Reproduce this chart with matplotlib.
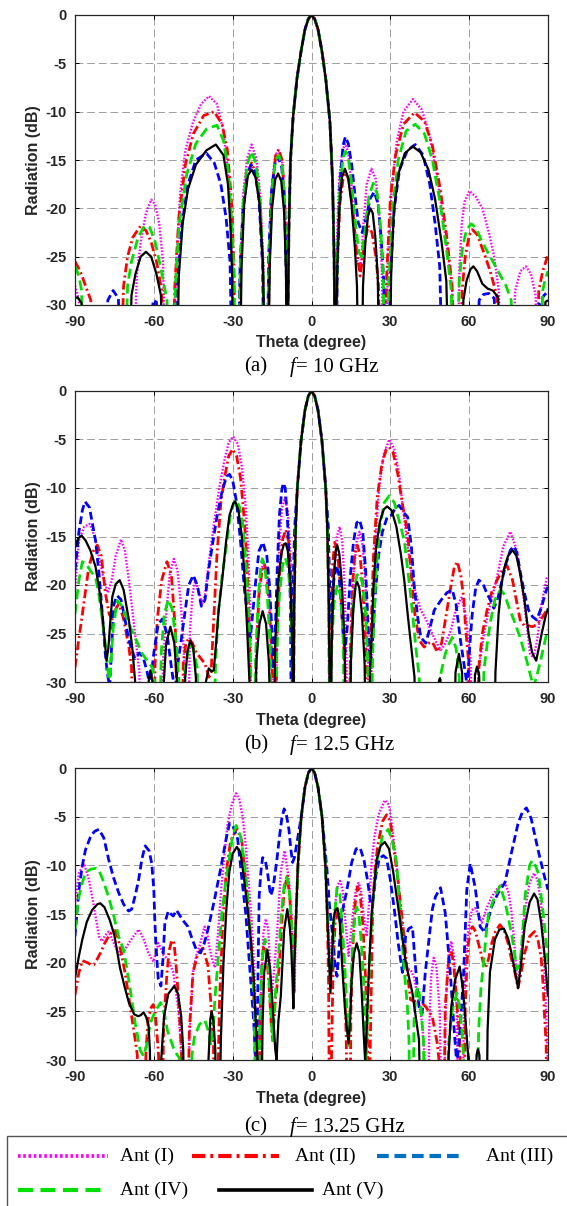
import numpy as np
import matplotlib.pyplot as plt
from matplotlib.lines import Line2D
from matplotlib.patches import Rectangle

plt.rcParams['axes.unicode_minus'] = False

# ============================================================
# --- Data: (Theta in degree, Radiation in dB) ---
# --- values below -30 dB are nulls (clipped by the axis) ---
# ============================================================

# ---------------- (a) f = 10 GHz ----------------
a_core = [(-8.6, -22), (-8, -15), (-7, -10.5), (-5.5, -6.5), (-4, -3.8), (-2.5, -1.5), (-1.2, -0.4), (0, 0),
          (1.2, -0.4), (2.5, -1.5), (4, -3.8), (5.5, -6.8), (7, -11), (8, -17), (8.6, -25)]

a_ant1 = [(-90, -28), (-88.5, -29.5), (-87, -40), (-68, -40), (-66.5, -27), (-65, -23.5), (-63, -20.5), (-61, -19.1),
          (-59.5, -19.6), (-58, -21.5), (-56.5, -25.5), (-55.3, -40), (-53, -40), (-51.5, -26), (-50, -18.5),
          (-48, -14), (-45, -11), (-42, -9.2), (-39, -8.4), (-36, -9.2), (-33.5, -12), (-31.5, -17), (-30.2, -25),
          (-29.5, -40), (-27.8, -40), (-27, -25), (-26, -18.5), (-24.5, -14.8), (-22.8, -13.4), (-21, -14.8),
          (-19.5, -18.5), (-18.3, -26), (-17.6, -40), (-16.8, -40), (-16, -24), (-15, -17.5), (-13.8, -14.5),
          (-12.5, -14), (-11.2, -15), (-10.2, -19), (-9.6, -26), (-9.3, -40)] + a_core + \
         [(9.1, -40), (9.6, -24), (10.5, -17), (11.8, -14), (12.8, -13.3), (14, -14.2), (15.2, -17.5), (16.3, -22),
          (17.5, -25.5), (18.8, -26), (19.8, -21.5), (21, -17.5), (22.8, -15.9), (24.5, -17), (25.8, -21),
          (26.8, -26.5), (27.5, -40), (28.3, -40), (29, -26), (30.5, -18), (32.5, -13), (35, -10), (38.6, -8.7),
          (42, -9.8), (45, -12.5), (48, -17), (50.5, -22), (53.5, -28), (54.5, -40), (55.5, -40), (56.3, -26),
          (57.2, -21.5), (58.3, -19.3), (60.1, -18.2), (62.5, -18.8), (65, -20), (67.5, -22.5), (69.5, -25),
          (71.3, -28.5), (72.3, -40), (76, -40), (77.5, -28.5), (79.5, -26.5), (81.6, -26), (83.5, -26.8),
          (85.3, -29), (86.3, -40), (90, -40)]

a_ant2 = [(-90, -25.5), (-88, -26.5), (-86, -28), (-84, -29.5), (-82.3, -40), (-73, -40), (-71.5, -28), (-70, -25),
          (-68, -23), (-65, -21.8), (-63, -22.3), (-61, -23.5), (-59, -25.5), (-57, -28.5), (-56.2, -40),
          (-53.2, -40), (-52, -28), (-50.5, -21), (-48, -15.5), (-45, -12.3), (-41, -10.4), (-37, -10),
          (-34, -11.3), (-32, -14), (-30.5, -19), (-29.5, -26), (-29, -40), (-27.8, -40), (-27, -26), (-26, -20),
          (-24.5, -16.5), (-22.8, -15.3), (-21, -16.5), (-19.5, -20), (-18.4, -27), (-17.8, -40), (-16.8, -40),
          (-16, -25), (-15, -18), (-13.6, -14.5), (-12.5, -13.9), (-11.2, -15), (-10.2, -19), (-9.6, -26),
          (-9.3, -40)] + a_core + \
         [(9.1, -40), (9.8, -26), (10.8, -19.5), (12, -17), (13, -16.4), (14.2, -17), (15.5, -19.5), (17, -24),
          (18.5, -27), (20, -24), (21.5, -21.8), (23, -22.5), (24.5, -25), (25.5, -28), (26.3, -40), (27.7, -40),
          (28.6, -27), (30, -19), (32, -14.5), (35, -11.3), (39.2, -10.1), (43, -11), (46, -13.5), (49, -18),
          (51.5, -23), (53.5, -28), (54.5, -40), (56.5, -40), (57.3, -28.5), (58.5, -25), (60, -22.8),
          (61.2, -22.2), (63, -22.7), (65.5, -24.5), (68, -26.5), (70.5, -29), (72, -40), (85.2, -40),
          (86.5, -28.5), (88, -26.5), (90, -24.8)]

a_ant3 = [(-90, -40), (-79, -40), (-77.5, -29.5), (-75.5, -28.5), (-73.5, -29.3), (-72, -40), (-61.5, -40),
          (-60.3, -29.5), (-59, -29.7), (-57.8, -40), (-52, -40), (-51, -28), (-49.5, -22), (-47, -17.5),
          (-44, -15), (-40, -14.3), (-37, -15.3), (-34.5, -17.5), (-32.5, -21), (-31, -25.5), (-30, -40),
          (-28, -40), (-27.2, -26), (-26, -20), (-24.5, -16.5), (-23, -15.5), (-21.5, -16.2), (-20, -19),
          (-18.6, -26), (-18, -40), (-17, -40), (-16.3, -25), (-15.3, -18.5), (-14, -15.5), (-12.7, -14.7),
          (-11.3, -15.8), (-10.2, -20), (-9.6, -27), (-9.4, -40)] + a_core + \
         [(9.2, -40), (9.9, -25), (10.8, -17.5), (12, -13.5), (12.9, -12.6), (14, -13.3), (15.3, -15.5),
          (16.5, -18.5), (17.8, -21.5), (19.3, -22.5), (20.8, -21), (22.3, -19), (23.9, -18.3), (25.3, -19.5),
          (26.5, -23), (27.5, -27.5), (28.3, -40), (29.3, -40), (30, -27), (31.5, -20), (33.5, -16), (36.5, -14),
          (39.5, -13.4), (42.5, -14.5), (45, -17.5), (47, -21.5), (48.8, -26), (50, -40), (62.5, -40),
          (63.8, -29.5), (65.5, -28.9), (67.5, -28.8), (69.5, -29.3), (71.5, -40), (85.4, -40), (86.8, -29.8),
          (88.5, -29), (90, -28.6)]

a_ant4 = [(-90, -26), (-88.5, -27), (-87.5, -28.5), (-86.7, -40), (-71.3, -40), (-70, -28), (-68.5, -25.5),
          (-66, -23), (-63.5, -21.8), (-61.5, -22), (-59.5, -23.5), (-57.5, -26), (-55, -29.5), (-54.2, -40),
          (-52.8, -40), (-51.8, -28), (-50.3, -21.5), (-47.5, -16.5), (-44, -13.3), (-40, -11.8), (-36, -11.4),
          (-33.5, -13), (-31.5, -16.5), (-30.2, -22), (-29.4, -28), (-29, -40), (-27.9, -40), (-27.1, -26),
          (-26, -19.5), (-24.5, -15.5), (-22.8, -14.1), (-21, -15.5), (-19.5, -19.5), (-18.4, -26.5),
          (-17.8, -40), (-16.9, -40), (-16.1, -25), (-15, -18), (-13.7, -15), (-12.5, -14.5), (-11.2, -15.5),
          (-10.2, -19.5), (-9.6, -26), (-9.3, -40)] + a_core + \
         [(9.1, -40), (9.8, -25), (10.8, -18), (12, -14.8), (12.9, -14.1), (14, -14.8), (15.3, -17.5),
          (16.7, -21.5), (18, -24.5), (19, -25), (20.3, -22.5), (21.8, -18.8), (23.5, -17.4), (25, -18.5),
          (26.3, -22), (27.3, -27), (28, -40), (28.8, -40), (29.5, -27), (31, -19.5), (33, -15), (36, -12),
          (39.5, -11.3), (43, -12.3), (46, -15), (49, -19.5), (51.5, -24.5), (53.2, -28.5), (53.8, -40),
          (55, -40), (56.2, -27.5), (57.5, -24), (59, -22.2), (60.8, -21.6), (62.5, -22), (65, -23.5), (68, -25),
          (71, -26.5), (74, -28), (76, -29.5), (77, -40), (86.8, -40), (88, -28.5), (89, -27.3), (90, -26.5)]

a_ant5 = [(-90, -29.3), (-89, -29.2), (-87.5, -29.8), (-86.5, -40), (-69.5, -40), (-68.5, -29), (-67, -26.8),
          (-65, -25), (-63, -24.5), (-61, -25), (-59, -26.8), (-57.3, -29), (-56.4, -40), (-51.3, -40),
          (-50.5, -27), (-49, -21.5), (-47, -18), (-44, -15.5), (-40, -14), (-36.4, -13.4), (-33.5, -14.5),
          (-31.8, -17.5), (-30.8, -22), (-30.2, -27), (-29.7, -40), (-27.4, -40), (-26.6, -26), (-25.6, -19.5),
          (-24.2, -16.6), (-22.8, -16), (-21.3, -16.8), (-19.8, -19.5), (-18.5, -25.5), (-17.6, -40),
          (-16.6, -40), (-15.9, -26), (-15, -20), (-13.8, -17), (-12.7, -16.4), (-11.5, -17.2), (-10.4, -20.5),
          (-9.7, -26.5), (-9.3, -40)] + a_core + \
         [(9, -40), (9.7, -27), (10.6, -20), (11.6, -16.8), (12.7, -15.9), (13.9, -16.8), (15.2, -19.5),
          (16.5, -24), (17.3, -28), (18, -40), (19, -40), (19.6, -28), (20.5, -23.5), (21.5, -20.8), (22.4, -20),
          (23.3, -20.5), (24.3, -23), (25.2, -27), (26, -40), (29.7, -40), (30.3, -27), (31.3, -20.5),
          (33, -16.5), (35.5, -14.3), (38.5, -13.6), (41.5, -14.2), (44.5, -16), (47, -19), (49.5, -23.5),
          (51.3, -27.5), (52.5, -40), (57, -40), (57.8, -29.5), (59, -27.5), (60.5, -26.3), (61.6, -26),
          (63, -26.5), (65, -27.8), (67, -28.3), (69, -28.5), (71, -29.2), (73, -40), (88.5, -40), (89, -29.7),
          (90, -29.5)]

# ---------------- (b) f = 12.5 GHz ----------------
b_core = [(-6.6, -22), (-6, -14), (-5.4, -10), (-4, -5.2), (-2.5, -2), (-1.2, -0.5), (0, 0),
          (1.2, -0.5), (2.5, -2), (4, -5.2), (5.4, -10), (6, -14), (6.6, -22)]

b_ant1 = [(-90, -20.5), (-88.5, -15.4), (-86.5, -14), (-84.4, -13.7), (-82.5, -15), (-80.9, -17.1), (-79, -19.5),
          (-77.5, -20.8), (-76, -19.5), (-74.5, -17), (-72.5, -15.3), (-71, -16.5), (-69.5, -19.5), (-68, -23),
          (-66.6, -26.3), (-65.5, -29), (-64.8, -40), (-57.5, -40), (-56.5, -28), (-55.3, -23), (-54, -19),
          (-52.4, -17.3), (-51, -18.5), (-49.7, -22), (-48.5, -27), (-47.8, -40), (-47, -40), (-46.3, -25),
          (-45.3, -21), (-44.3, -19.6), (-43, -20.5), (-41.7, -22), (-40.5, -21), (-39, -17.5), (-37, -13.5),
          (-35, -9.8), (-33, -7), (-31.5, -5.3), (-29.8, -4.7), (-28, -5.5), (-26.5, -7.8), (-25, -12),
          (-24, -17), (-23.3, -23), (-22.8, -40), (-21.8, -40), (-21, -27), (-20, -21), (-18.5, -17.5),
          (-17, -18.5), (-16, -22), (-15, -28), (-14.3, -40), (-13.8, -40), (-13.2, -25), (-12.3, -16),
          (-11.2, -12), (-10.1, -11), (-9, -12.5), (-8, -17), (-7.3, -25), (-7, -40)] + b_core + \
         [(7, -40), (7.6, -26), (8.6, -19), (9.7, -15), (10.7, -14), (11.7, -15.5), (12.6, -20), (13.3, -28),
          (13.7, -40), (14.3, -40), (15, -26), (16, -19), (17.2, -15.5), (18.3, -14.5), (19.5, -16), (20.6, -20),
          (21.5, -27), (22, -40), (22.3, -40), (23, -25), (24.2, -16), (25.7, -10), (27.5, -6.5), (29.6, -5),
          (31.5, -6), (33.3, -8.5), (35, -12.5), (36.6, -16.1), (38.2, -19), (39.7, -20.9), (41.6, -22.6),
          (43.5, -23.5), (45.4, -24.7), (47.3, -25.8), (49.2, -26.7), (51, -26), (53, -24.7), (55, -22.5),
          (57.2, -21.2), (58.8, -23.5), (60.5, -27.4), (61.5, -40), (62.5, -40), (63.5, -29), (65.6, -25),
          (67.5, -22.6), (70.6, -19.2), (73, -16), (75.7, -14.5), (78.2, -16.5), (80.7, -21.2), (83.2, -27.1),
          (84.5, -27.5), (86, -25.5), (87.5, -22), (89.5, -19.3), (90, -19.2)]

b_ant2 = [(-90, -28.5), (-88.5, -25.5), (-87.2, -23), (-85.7, -20), (-84.7, -18.1), (-83, -16.5), (-81.5, -15.9),
          (-80, -17), (-78.4, -20.9), (-77, -23), (-75.8, -23.5), (-74.5, -22.5), (-73.3, -21.9), (-71.5, -23.5),
          (-69.5, -26.4), (-68.5, -28.5), (-67.5, -40), (-60.2, -40), (-59.5, -28), (-58.7, -23.6), (-57, -19.5),
          (-55, -17.6), (-53.3, -19), (-51.8, -24.7), (-50.8, -40), (-49.5, -40), (-48.8, -28), (-47.8, -26),
          (-46.7, -25.5), (-45.3, -26), (-43.8, -27), (-42.9, -27.3), (-40.6, -28.1), (-39, -29.5), (-38.2, -29),
          (-37.2, -23.5), (-36, -17), (-34.5, -11.5), (-33, -8.8), (-31.5, -6.7), (-30, -6), (-28.5, -6.7),
          (-27, -9), (-25.5, -13.5), (-24.5, -18), (-23.6, -25), (-23, -40), (-21.8, -40), (-21, -27), (-20, -21),
          (-18.8, -18.5), (-17.9, -17.9), (-17, -19), (-16, -22.5), (-15, -28), (-14.5, -40), (-13.8, -40),
          (-13.2, -26), (-12.2, -19), (-11, -15.3), (-9.8, -14.3), (-8.7, -15.5), (-7.8, -19), (-7.2, -26),
          (-7, -40)] + b_core + \
         [(7, -40), (7.4, -25), (8, -18), (8.8, -15.6), (9.7, -16.3), (10.7, -19), (11.8, -24), (12.8, -29),
          (13.2, -40), (14.2, -40), (14.8, -27), (15.6, -20), (16.5, -16.7), (17.4, -15.9), (18.4, -16.8),
          (19.5, -20), (20.6, -26), (21.3, -40), (21.8, -40), (22.5, -26), (23.6, -17), (25, -11), (26.8, -7.5),
          (28.5, -6), (29.6, -5.8), (31, -6.3), (32.8, -8.5), (34.5, -11.5), (36.6, -14.7), (38, -19),
          (39.1, -22.6), (41, -25.7), (42.9, -26.4), (44.5, -26), (46, -25.9), (47.9, -26.9), (49.5, -26),
          (51, -23.5), (53, -20.2), (54.3, -18.2), (55.5, -17.6), (56.8, -19), (58, -21.5), (58.6, -24.3),
          (59.8, -28), (60.5, -40), (62.8, -40), (63.7, -28.5), (65, -25), (66.8, -22.6), (68.5, -20.8),
          (70.6, -19.5), (72.5, -18.5), (74.4, -18), (76.5, -19.5), (79.4, -23.6), (81, -24.2), (82.6, -24.2),
          (84, -24.3), (85.7, -24.1), (87.5, -23.5), (89.5, -22.6), (90, -22.5)]

b_ant3 = [(-90, -18.5), (-88.5, -14.5), (-87.2, -12.3), (-86.2, -11.4), (-84.5, -12), (-82.2, -15.4), (-80.8, -19),
          (-79.6, -23), (-78.5, -27), (-77.7, -29.1), (-76.8, -30.5), (-76, -26), (-75.2, -22), (-74, -21.1),
          (-72.5, -21.5), (-71, -23.5), (-69.5, -25.7), (-67.2, -27.6), (-65.5, -27), (-64, -27.5), (-62.5, -29),
          (-61.5, -30.5), (-60, -27), (-58.4, -24.1), (-56.8, -23.5), (-55, -25), (-53.3, -28.5), (-52, -31),
          (-50.8, -28), (-49.5, -25.5), (-48, -22.5), (-46.7, -20), (-45, -19), (-43.5, -20), (-41.9, -22.2),
          (-40.5, -21.5), (-39.2, -18.5), (-37.5, -15.5), (-36, -13), (-34, -10.3), (-32.3, -8.8), (-31.2, -8.6),
          (-30, -9.2), (-28.5, -11.5), (-27, -15.5), (-25.5, -20.5), (-24.3, -23.2), (-23.3, -25.5), (-22.4, -23),
          (-21.2, -19.5), (-20, -16.5), (-18.5, -15.6), (-17, -17), (-16, -20), (-15, -25), (-14.5, -28.7),
          (-13.7, -24), (-13, -18), (-12.2, -12.8), (-11.3, -10.2), (-10.7, -9.5), (-10, -10), (-9.2, -13),
          (-8.6, -16.7), (-8, -22), (-7.6, -40), (-7.2, -22), (-6.4, -14)] + b_core[2:-2] + \
         [(6.4, -14), (7, -21), (7.5, -24), (8.5, -19.5), (9.5, -18), (10.5, -19), (11.7, -23.5), (12.7, -27),
          (13.7, -24), (14.8, -19), (16, -15.5), (17.2, -13.6), (18.3, -13.3), (19.5, -14.5), (20.6, -18.5),
          (21.5, -24), (22.3, -28), (23, -27), (24, -22), (25.5, -17), (27, -14.5), (28.8, -13), (30.5, -12.8),
          (32, -12), (33.4, -11.8), (35, -12.5), (36.6, -13), (38, -16), (39.1, -20.2), (40.5, -23.5),
          (41.6, -25.4), (43.5, -26), (45, -24.5), (46.7, -22.6), (49.2, -21.6), (51.5, -20.8), (53.6, -20.5),
          (55, -22), (56.7, -25.7), (58.2, -28.5), (59.3, -30.5), (60.3, -26), (61.2, -22.9), (62.5, -20.3),
          (63.7, -19.5), (65.3, -19.9), (66.8, -20.9), (68, -21.5), (69.4, -22.4), (71, -21.3), (72.5, -19.5),
          (74, -17.8), (75.7, -16.4), (77, -16), (78.2, -16.7), (79.4, -18.6), (81, -20.8), (82.6, -22.6),
          (84.2, -23.3), (85.7, -23.6), (87.5, -22.3), (89.5, -20.4), (90, -20.2)]

b_ant4 = [(-90, -23), (-88.5, -19.5), (-87.2, -17.6), (-85.7, -17.8), (-84, -18.6), (-82.2, -19.2), (-80.9, -21),
          (-79.6, -23.6), (-78.3, -26.5), (-77.1, -29.8), (-76.5, -29), (-75.5, -24.5), (-73.9, -21.6),
          (-72, -22.2), (-69.5, -24), (-67, -25.5), (-64.4, -27.1), (-62.5, -27.8), (-60.6, -28.5),
          (-59.5, -30.2), (-58.3, -40), (-58, -40), (-57.2, -27), (-56, -23), (-54.5, -21.5), (-53, -22.5),
          (-51.5, -26), (-50.5, -29.5), (-50, -40), (-48.8, -40), (-48, -28.5), (-46.5, -26.2), (-45, -26.5),
          (-43.5, -28.5), (-42.8, -40), (-37.5, -40), (-36.5, -28), (-35.5, -23), (-34, -19), (-32.4, -16),
          (-31, -13), (-29.5, -11.5), (-28.8, -11.2), (-27.3, -12), (-26, -14), (-25, -17.5), (-24, -22),
          (-23.3, -27), (-22.8, -40), (-22, -40), (-21.2, -27), (-20.2, -21), (-19.2, -17.8), (-18.7, -17.3),
          (-17.8, -18), (-16.8, -21), (-15.8, -26), (-15, -40), (-14, -40), (-13.2, -27), (-12.2, -21),
          (-11, -18), (-10, -17.2), (-9, -18), (-8, -21), (-7.4, -26), (-7, -40)] + b_core + \
         [(7, -40), (7.6, -27), (8.5, -22), (9.8, -20), (11, -21), (12, -24.5), (12.8, -40), (14.3, -40),
          (15, -27), (16, -21.5), (17.2, -19), (18.3, -18.8), (19.5, -20), (20.6, -23), (21.4, -28), (21.9, -40),
          (22.5, -40), (23.3, -27), (24.5, -19), (26, -14), (27.7, -11.5), (29.6, -10.8), (31.5, -11.5),
          (33.5, -13.5), (35.3, -15.4), (37.8, -21.2), (39.7, -26.4), (41, -29.5), (41.6, -40), (48.5, -40),
          (49.2, -29.2), (50.5, -27.5), (51.7, -26.4), (53.6, -25.4), (55, -26.5), (56.2, -29.5), (56.7, -40),
          (64.8, -40), (65.6, -28.8), (67, -25.8), (68.1, -23.8), (69.8, -21.5), (71.9, -20.5), (73.5, -21),
          (75, -22.2), (77, -23.6), (79.5, -25.5), (82.1, -28), (83.5, -29.5), (84.5, -30.5), (85.8, -29.3),
          (87, -28), (88.5, -26.2), (89.5, -25), (90, -24.6)]

b_ant5 = [(-90, -16.1), (-88.8, -15.2), (-87.5, -14.9), (-86, -15.4), (-84.2, -16.4), (-82.2, -18.1), (-80.9, -20.2),
          (-79.6, -23), (-78.6, -26), (-78, -27.8), (-77.3, -26.5), (-76.5, -23.5), (-75.8, -21.2), (-74.5, -19.9),
          (-73, -19.5), (-71.5, -20.5), (-69.5, -23.6), (-68.2, -26.5), (-67.1, -30), (-66.5, -40), (-62.5, -40),
          (-62, -30), (-61.3, -28.8), (-60.5, -30), (-60, -40), (-56.8, -40), (-56.2, -30), (-55.3, -26),
          (-53.7, -24.3), (-52.2, -26), (-51.2, -30), (-50.8, -40), (-48.7, -40), (-48.2, -30), (-47.2, -26.8),
          (-46.1, -25.7), (-45, -26.5), (-44, -29.5), (-43.6, -40), (-40.8, -40), (-40.2, -30), (-39.1, -28.6),
          (-38, -28.9), (-37.2, -28.8), (-36.3, -26), (-35.3, -22.5), (-34, -19.5), (-32.5, -15.5),
          (-31.2, -12.8), (-29.8, -11.6), (-29, -11.4), (-27.8, -12.3), (-26.5, -15), (-25.5, -19),
          (-24.5, -24.5), (-23.6, -30), (-23.3, -40), (-21.7, -40), (-21, -28), (-19.8, -24), (-18.6, -22.7),
          (-17.3, -24), (-16.2, -28), (-15.2, -40), (-14.6, -40), (-13.8, -26), (-12.8, -20), (-11.5, -16.8),
          (-10.5, -15.8), (-9.8, -15.7), (-9, -16.5), (-8, -20), (-7.3, -26), (-6.9, -40)] + b_core + \
         [(7.2, -40), (7.7, -26), (8.5, -19), (9.3, -16.3), (9.8, -15.9), (10.6, -16.8), (11.6, -20),
          (12.6, -26), (13.2, -40), (14.4, -40), (15, -28), (15.9, -22.5), (16.8, -20), (17.4, -19.7),
          (18.2, -20.3), (19.2, -23), (20.2, -28), (20.8, -40), (21.7, -40), (22.3, -28.5), (22.7, -26.4),
          (23.6, -20), (24.6, -16.1), (26, -13.5), (27.5, -12.2), (28.8, -11.9), (30.5, -12.3), (32.3, -14),
          (34, -16.8), (35.3, -19.5), (36.6, -23), (38, -26.5), (39.2, -29.5), (39.7, -40), (47.8, -40),
          (48.5, -29.9), (48.9, -29.6), (49.5, -40), (54.2, -40), (54.8, -29), (56.1, -27.1), (57.3, -29),
          (57.8, -40), (61.5, -40), (62.2, -29.3), (63, -28.4), (63.8, -29.3), (64.6, -40), (69.4, -40),
          (70, -29), (71.2, -23), (72.2, -20.3), (73.1, -18.5), (74.8, -17), (76.5, -16.4), (78, -17),
          (79.4, -18.8), (81, -21.5), (82.6, -25), (84, -27), (85.5, -27.8), (86.5, -26.5), (87.6, -25),
          (89, -23.3), (90, -22.4)]

# ---------------- (c) f = 13.25 GHz ----------------
c_core = [(-3.9, -5), (-2.5, -2), (-1.2, -0.5), (0, 0), (1.2, -0.5), (2.5, -2), (4, -5)]

c_ant1 = [(-90, -13.9), (-88.5, -10.8), (-86.6, -9.8), (-84.7, -11.5), (-82.8, -14.2), (-80.9, -17.3),
          (-79.7, -17.8), (-78.5, -17.2), (-77.2, -16.8), (-76, -17.5), (-74.7, -18.3), (-72.8, -19.2),
          (-71, -18.7), (-69.6, -18), (-67.5, -17.2), (-65.8, -16.6), (-64, -17.5), (-62.1, -19), (-60.2, -19.9),
          (-59, -18.8), (-58.3, -18), (-57.2, -18.6), (-56.4, -19.2), (-54.5, -19.7), (-52.6, -21), (-50.8, -24.5),
          (-49.7, -28.5), (-49.2, -40), (-47.5, -40), (-46.5, -28), (-45.1, -21), (-43.8, -19.2), (-42.6, -18.3),
          (-40.7, -16.3), (-39.5, -17.3), (-38.8, -18.5), (-37.5, -20), (-36.7, -20.5), (-35.6, -17),
          (-34.4, -12.5), (-33, -8.5), (-31.9, -5.7), (-30.3, -3.7), (-28.7, -2.6), (-27.5, -3.2), (-26.2, -5),
          (-25, -8), (-23.7, -12.5), (-22.7, -16), (-21.8, -20.4), (-21, -27), (-20.6, -40), (-19.8, -40),
          (-19.2, -23), (-18.3, -17), (-17.4, -15.5), (-16.5, -16.5), (-15.8, -20), (-15.3, -24), (-14, -20),
          (-13, -16.5), (-11.7, -10.7), (-10.2, -8.5), (-8.6, -11.5), (-7.3, -16.6), (-6.7, -21), (-6.4, -23),
          (-6, -16), (-5.2, -10.5)] + c_core + \
         [(5.3, -10), (6.2, -15), (7.2, -20), (8, -17), (9.1, -13.8), (10, -12), (10.9, -11.6), (11.8, -12.5),
          (12.8, -15.5), (14.1, -19.3), (15, -17), (16, -14.3), (17, -12.3), (17.9, -11.8), (18.8, -12.5),
          (19.7, -14.8), (21, -17.3), (22, -13.5), (22.9, -9.7), (24, -7), (25.5, -4.8), (27.9, -3.3),
          (29.5, -3.8), (30.4, -5.5), (32.3, -9.7), (33.5, -13), (34.6, -16.5), (35.5, -19), (36.5, -20.7),
          (37.7, -20.7), (39, -21.5), (40.5, -23.5), (42.1, -26.2), (43, -29.5), (43.4, -40), (44.3, -40),
          (44.8, -27), (45.5, -21.5), (46.5, -19.5), (47.5, -20.3), (48.8, -25), (49.7, -40), (50.2, -40),
          (51, -25), (52, -19.5), (53.2, -17.8), (54.3, -19.5), (55.3, -25), (56, -40), (57.3, -40), (58, -25),
          (58.5, -20.5), (59.7, -16.5), (61, -14.6), (62.3, -14.4), (63.5, -15), (64.8, -15.9), (66.5, -14.5),
          (68.6, -13.2), (71, -12.3), (73.6, -11.8), (75, -12.8), (76.1, -14.8), (77.2, -18), (77.9, -21),
          (78.6, -22.4), (79.8, -19), (81.1, -14.8), (83, -11.8), (84.7, -10.8), (86, -11.5), (87.4, -14),
          (88.3, -18), (88.7, -21), (89.3, -25), (89.7, -28.6), (90, -30.5)]

c_ant2 = [(-90, -23.3), (-88.5, -21), (-87.2, -19.8), (-85.3, -20), (-84, -20.2), (-82.8, -20.2), (-81.5, -19.6),
          (-80.3, -19), (-78.7, -18), (-77.2, -17.3), (-75.8, -16.8), (-74.7, -16.7), (-73.8, -17.3),
          (-72.8, -18.5), (-70.9, -21.1), (-69, -24.5), (-67.1, -27.9), (-66.3, -29.5), (-65.8, -40), (-63.5, -40),
          (-63, -29), (-62.1, -25.7), (-61, -24.6), (-60.2, -24.3), (-59.5, -25), (-58.9, -27), (-58.2, -29.5),
          (-57.7, -40), (-57, -40), (-56.3, -27), (-55.8, -24.5), (-55, -21), (-54.2, -18.8), (-53.2, -17.7),
          (-52.3, -18), (-51.6, -20), (-50.8, -23), (-50, -26.5), (-49.5, -29), (-48.8, -40), (-47.2, -40),
          (-46.5, -27), (-45.1, -21), (-43.2, -19), (-41.3, -18.5), (-39.4, -20.3), (-38.2, -24.5), (-37.3, -28.5),
          (-36.9, -40), (-36.2, -40), (-35, -24), (-33.8, -16), (-32.5, -10.8), (-30.8, -7.5), (-28.4, -6.2),
          (-26.5, -7.5), (-25.6, -10.1), (-24.3, -13.5), (-23.1, -17.6), (-22.2, -22), (-21.5, -27), (-21.2, -40),
          (-20.2, -40), (-19.6, -26), (-18.8, -19.5), (-18, -18), (-17.2, -19), (-16.2, -22), (-15.4, -26),
          (-14.8, -28), (-13.8, -24), (-12.3, -20.5), (-11.2, -15.5), (-10.4, -12.5), (-9.2, -11.1),
          (-8.2, -13.5), (-7.5, -17), (-6.9, -21), (-6.4, -19), (-5.8, -14.5), (-5.2, -10.2)] + c_core + \
         [(5.3, -10), (6, -15), (6.5, -22), (6.9, -40), (7.6, -30), (8.2, -20.5), (9, -16), (10.1, -14.6),
          (11, -15.7), (11.9, -19), (12.8, -24), (13.2, -27.5), (13.8, -40), (14.6, -40), (15, -25),
          (15.7, -18.5), (16.6, -14), (17.6, -12.2), (18.5, -13), (19.5, -15.8), (20.3, -20), (20.8, -23),
          (21.3, -28), (21.8, -40), (22.4, -28), (23.3, -14), (24.3, -10), (25.2, -8), (27, -5.5), (28.6, -4.8),
          (30, -5.5), (31.4, -8.5), (32.7, -11), (34, -14.2), (35.3, -17.5), (36.5, -21.1), (37.7, -23.8),
          (39.2, -24), (40.9, -23.8), (42.2, -24.2), (43.4, -24.5), (45.9, -25.5), (47, -27), (47.8, -28.2),
          (48.5, -30), (49.1, -40), (50.2, -40), (50.9, -24.5), (51.7, -21.5), (52.2, -19.7), (53.2, -18.8),
          (54, -20), (54.7, -22), (56, -26.5), (56.5, -28.5), (57, -40), (58, -40), (58.5, -24.5), (59.2, -20),
          (59.7, -18), (60.5, -16.6), (61.3, -16.3), (62.4, -16.8), (63.5, -18), (65.4, -20), (66.3, -20.5),
          (67.4, -19.6), (68.6, -18), (70, -16.8), (71.7, -16.1), (73.3, -16.7), (74.8, -18), (76, -19.5),
          (77.4, -21), (78.6, -22.6), (79.8, -21), (81.1, -19), (83, -17.3), (84.9, -16.8), (86.2, -17.7),
          (87.4, -19.5), (88.2, -22.5), (88.7, -25.5), (89.3, -28.5), (89.7, -40), (90, -40)]

c_ant3 = [(-90, -17.3), (-88.5, -12.5), (-87.2, -10), (-86, -8.4), (-84, -7), (-82.5, -6.5), (-80.9, -6.3),
          (-79, -7.2), (-77.2, -9.4), (-75.3, -11.3), (-73.4, -12.8), (-71.5, -14), (-69.6, -14.7),
          (-68.4, -14.5), (-67, -13), (-65.8, -11.5), (-64.5, -9.3), (-63.3, -8), (-61.8, -8.5), (-60.8, -9.8),
          (-60, -12.5), (-59.6, -15.9), (-58.9, -19.5), (-58.3, -21.7), (-57.3, -22.4), (-56.5, -19.5),
          (-55.8, -15.9), (-54.5, -14.7), (-53.5, -15), (-52.6, -15.2), (-51.4, -14.6), (-50, -15.2),
          (-48.5, -15.8), (-47, -16.3), (-45.5, -17.5), (-43.8, -18.7), (-42.2, -19), (-40.8, -18),
          (-39.4, -16.6), (-36.9, -13.5), (-34.4, -10.1), (-32.5, -7.3), (-31.2, -5.7), (-30, -5.9),
          (-28.1, -7.3), (-27.2, -9.5), (-26.5, -11.4), (-25, -15), (-23.5, -20.5), (-22, -26), (-21.3, -30),
          (-20.7, -28), (-20.3, -20), (-19.9, -13.1), (-19.2, -10.5), (-18.6, -9.2), (-17.5, -9.6),
          (-16.7, -10.8), (-16, -12.3), (-15.5, -13.1), (-14.8, -12.5), (-14.2, -11.5), (-13.2, -9.5),
          (-12.3, -7.3), (-11.3, -5.2), (-10.4, -4.2), (-9.5, -4.9), (-8.6, -6.3), (-7.8, -8.5), (-7.2, -9.7),
          (-6.5, -9.2), (-5.3, -7.3)] + c_core + \
         [(5.2, -8.5), (5.9, -10.5), (6.8, -14), (7.8, -16.6), (9.1, -20.7), (9.7, -21.4), (10.5, -18.5),
          (11.6, -14.9), (13.5, -12.5), (15.3, -9.7), (17, -8.3), (18.5, -8.2), (20, -9.5), (21.3, -11.5),
          (22.6, -14), (23.5, -13.5), (24.5, -11), (25.8, -9.3), (27.3, -9), (28.6, -9.3), (30, -11.5),
          (31.5, -14.5), (33, -18), (34.6, -21), (35.3, -19.5), (35.8, -17.3), (37, -16.5), (38.4, -16.3),
          (39.6, -20.5), (40.9, -24.5), (42.1, -25.2), (43.3, -21), (44.7, -17.6), (46, -14.5), (47.2, -13.2),
          (49.1, -12.3), (50.9, -14.9), (52.8, -21), (54.1, -26.2), (55.3, -30.5), (56.5, -27), (57.9, -21),
          (59.1, -12.5), (60.4, -9.8), (62.3, -12.3), (64.2, -16.3), (66, -16.9), (67.3, -15.5), (68.6, -14.2),
          (71.1, -12.8), (73.6, -11.8), (76.1, -8.7), (78.6, -5.7), (80.3, -4.5), (81.8, -4.1), (83.6, -5.2),
          (86.2, -8.4), (88.7, -11.2), (90, -12.5)]

c_ant4 = [(-90, -16.6), (-88.7, -13.5), (-87.5, -12), (-85.9, -10.7), (-84, -10.4), (-82, -10.3), (-80.9, -10.5),
          (-79.4, -11.5), (-77.5, -13), (-75.5, -14.9), (-73.4, -17.3), (-71.6, -18.6), (-70.3, -20.5),
          (-69, -22.7), (-67.1, -26.2), (-65.2, -29), (-63.9, -29.6), (-62.8, -28.5), (-61.3, -26.2),
          (-59.5, -25), (-57.4, -24.1), (-55.8, -25.5), (-54.8, -27), (-52.2, -29), (-50.3, -29.8), (-49.5, -40),
          (-46.5, -40), (-45.5, -29.5), (-44.5, -27.5), (-42.5, -26.3), (-40.6, -25.9), (-39.3, -27),
          (-38.3, -28.5), (-37.5, -27), (-36.7, -23.5), (-35.5, -19.5), (-34.1, -14.9), (-32.8, -12),
          (-31.5, -9.7), (-30, -7), (-28.7, -5.9), (-27, -7), (-25.5, -9.7), (-24.5, -12.5), (-23.6, -15.9),
          (-22.6, -20), (-21.8, -24), (-21.1, -40), (-20.3, -40), (-19.8, -28), (-19, -21), (-18.2, -18.2),
          (-17.7, -17.6), (-17, -18.5), (-16.2, -21.5), (-15.5, -25), (-14.8, -28), (-14, -24), (-12.5, -19),
          (-11.5, -15), (-10.4, -12), (-9.4, -11.2), (-8.5, -12.5), (-7.6, -16), (-7, -20), (-6.7, -21.7),
          (-6.2, -18), (-5.6, -13.5), (-5, -9.5)] + c_core + \
         [(5.2, -9.5), (5.8, -13.5), (6.5, -18), (7.2, -21), (7.8, -20.3), (8.5, -16), (9.7, -12.3), (10.8, -13),
          (11.8, -16.5), (13, -22), (14.1, -28.5), (14.8, -24), (15.6, -18), (16.5, -15), (17.2, -14.3),
          (18, -15), (19, -18), (20, -22.5), (20.8, -30), (21.3, -26), (22.2, -19), (23.5, -13), (25, -9.5),
          (27, -7), (29.2, -6.3), (30.8, -7.5), (32.3, -9.6), (33.3, -13), (34.3, -17), (35.2, -20.5),
          (36.5, -24.5), (37.1, -28), (37.6, -40), (38.5, -40), (39, -26), (39.8, -23), (40.7, -22.5),
          (41.6, -24.5), (42.6, -28), (43.2, -40), (51.5, -40), (52.1, -28.5), (53.5, -25), (55.3, -23.1),
          (56.3, -24.5), (57.2, -27), (58, -30), (58.5, -40), (62.8, -40), (63.6, -27), (64.5, -22.5),
          (65.5, -20), (66.5, -17), (67.4, -14.9), (69.9, -13.1), (71.8, -12.1), (73.7, -13.8), (76.3, -17.3),
          (78.2, -20.7), (79.4, -20), (80.3, -17), (81.3, -13.1), (83, -10), (84, -9.5), (85.5, -10.2),
          (86.4, -10.9), (88, -14.5), (89, -17), (90, -20)]

c_ant5 = [(-90, -21.6), (-88.5, -19.3), (-87.2, -17.6), (-85.5, -15.8), (-83.5, -14.6), (-81.5, -14),
          (-80.4, -13.9), (-78.8, -14.3), (-76.8, -15.6), (-75, -17.2), (-72.9, -20.5), (-71, -22.6),
          (-69.5, -24.1), (-67.5, -25.3), (-66, -25.5), (-65, -25.4), (-63.9, -25.1), (-62.9, -25.6), (-62, -26.5),
          (-61.5, -29), (-61, -40), (-57.7, -40), (-57.2, -30), (-56.1, -25.5), (-54.5, -23.2), (-52.2, -22.4),
          (-50.8, -23.2), (-49.6, -25.5), (-48.8, -29), (-48.3, -40), (-39.8, -40), (-39.2, -30), (-38.5, -25.8),
          (-38, -25), (-37.3, -26), (-36.6, -29), (-36.2, -40), (-35.2, -40), (-34.5, -28), (-33.5, -20),
          (-32.4, -14.5), (-31.3, -10.7), (-30, -8.8), (-28.4, -8.1), (-27, -8.7), (-25.6, -11.5), (-24.3, -14.5),
          (-23.1, -17.6), (-22, -21.5), (-21.2, -26.2), (-20.5, -30), (-19.9, -40), (-19.3, -40), (-18.6, -26),
          (-18, -21), (-16.8, -18.7), (-15.8, -20.5), (-14.9, -24), (-13.8, -28.9), (-13.3, -30), (-12.6, -26),
          (-11.7, -23.5), (-10.4, -16.6), (-9.2, -14.5), (-8.2, -16.5), (-7.7, -18.6), (-7.2, -22), (-6.9, -24.7),
          (-6.5, -20), (-5.8, -14.5), (-5.2, -10)] + c_core + \
         [(5.3, -10), (5.9, -14.5), (6.6, -19), (7.2, -23.1), (7.8, -19.5), (8.4, -15.5), (9.1, -14.6),
          (9.9, -14.4), (10.8, -16), (11.6, -20), (12.8, -25), (14.1, -28.3), (14.7, -26), (15.3, -21.7),
          (16.2, -19), (17.2, -18), (18.2, -19), (19.1, -23), (19.8, -27), (20.4, -30), (20.8, -28), (21.8, -21),
          (22.9, -14.9), (24.8, -9.4), (26.3, -8), (27.9, -7.6), (29.5, -8.3), (31.1, -10.7), (33.6, -15.5),
          (35.8, -19.9), (38.4, -23.1), (40.9, -27.9), (41.9, -40), (51.8, -40), (52.2, -29.5), (53.2, -24.5),
          (54.7, -21.7), (56.4, -20.4), (57.5, -22.5), (58.5, -25.5), (59.6, -29.5), (60.4, -40), (62.3, -40),
          (62.8, -29.5), (63.3, -28.9), (63.9, -29.5), (64.4, -40), (66.5, -40), (67, -27), (67.9, -21),
          (69.8, -17.6), (71.5, -16.6), (73.2, -16.5), (74.8, -17.5), (76.1, -19), (77.5, -21), (78.6, -22.6),
          (79.8, -20), (81.1, -16.3), (83, -13.8), (84.7, -12.9), (86, -13.5), (87.4, -15.9), (88.8, -19.5),
          (90, -23.5)]

labels = ["Ant (I)", "Ant (II)", "Ant (III)", "Ant (IV)", "Ant (V)"]
captions = [("(a)", "= 10 GHz"), ("(b)", "= 12.5 GHz"), ("(c)", "= 13.25 GHz")]
x_ticks = [-90, -60, -30, 0, 30, 60, 90]
y_ticks = [-30, -25, -20, -15, -10, -5, 0]

# ============================================================
# --- Styles ---
# ============================================================
styles = [
    dict(color="#ff00ff", lw=1.7, ls=(0, (0.7, 0.7))),            # dotted
    dict(color="#ff0000", lw=2.0, ls=(0, (3.2, 1.2, 0.7, 1.2))),  # dash-dot
    dict(color="#0000ff", lw=2.0, ls=(0, (2.8, 1.4))),            # dashed
    dict(color="#00e000", lw=2.0, ls=(0, (3.6, 1.8))),            # dashed
    dict(color="black", lw=1.6, ls="-"),                          # solid
]

sans = ["Liberation Sans", "DejaVu Sans"]
serif = ["Liberation Serif", "DejaVu Serif"]

W, H = 567, 1206
fig = plt.figure(figsize=(W / 100, H / 100), dpi=100)

# axes boxes in pixels: left, top, right, bottom
boxes = [(75, 15, 548, 305), (75, 391, 548, 682), (75, 768, 548, 1060)]
panels = [[a_ant1, a_ant2, a_ant3, a_ant4, a_ant5],
          [b_ant1, b_ant2, b_ant3, b_ant4, b_ant5],
          [c_ant1, c_ant2, c_ant3, c_ant4, c_ant5]]
caption_y = [367, 745, 1127]

for (l, t, r, b), series, (tag, freq), cy in zip(boxes, panels, captions, caption_y):
    ax = fig.add_axes([l / W, 1 - b / H, (r - l) / W, (b - t) / H])
    for pts, st in zip(series, styles):
        xs, ys = zip(*pts)
        ax.plot(xs, ys, color=st["color"], lw=st["lw"], linestyle=st["ls"],
                solid_capstyle="butt", dash_capstyle="butt")
    ax.set_xlim(-90, 90)
    ax.set_ylim(-30, 0)
    ax.set_xticks(x_ticks)
    ax.set_yticks(y_ticks)
    ax.set_xticklabels([str(v) for v in x_ticks])
    ax.set_yticklabels([str(v) for v in y_ticks])
    ax.grid(True, color="0.62", lw=0.7, linestyle=(0, (8, 4)))
    ax.set_axisbelow(True)
    ax.tick_params(direction="in", length=3, width=0.7, top=True, right=True,
                   labelsize=10.5, pad=6)
    ax.tick_params(axis="x", pad=7)
    for lab in ax.get_xticklabels() + ax.get_yticklabels():
        lab.set_fontweight("bold")
        lab.set_family(sans)
        lab.set_color("#262626")
    for sp in ax.spines.values():
        sp.set_linewidth(0.9)
        sp.set_color("#262626")
    ax.set_xlabel("Theta (degree)", fontsize=11.5, fontweight="bold", family=sans, color="#262626")
    ax.set_ylabel("Radiation (dB)", fontsize=11.5, fontweight="bold", family=sans, color="#262626")
    ax.xaxis.set_label_coords(0.5, -0.105)
    ax.yaxis.set_label_coords(-0.072, 0.5)

    # caption below each panel
    fig.text(244 / W, 1 - cy / H, tag, family=serif, fontsize=15, ha="left", va="center")
    fig.text(290 / W, 1 - cy / H, "f", family=serif, style="italic", fontsize=15, ha="left", va="center")
    fig.text(296 / W, 1 - cy / H, freq, family=serif, fontsize=15, ha="left", va="center")

# ============================================================
# --- Legend box at the bottom ---
# ============================================================
fig.patches.append(Rectangle((7 / W, -0.01), 1.0, (1206 - 1136) / H + 0.01, transform=fig.transFigure,
                             fill=False, edgecolor="#555555", lw=1.0))
legend_colors = ["#ff00ff", "#ff0000", "#0070c0", "#00e000", "black"]
legend_pos = [(18, 108, 120, 1156), (192, 279, 295, 1156), (377, 460, 486, 1156),
              (18, 101, 120, 1190), (219, 312, 322, 1190)]
for (x0, x1, xt, yy), lab, st, col in zip(legend_pos, labels, styles, legend_colors):
    fig.add_artist(Line2D([x0 / W, x1 / W], [1 - yy / H, 1 - yy / H], transform=fig.transFigure,
                          color=col, lw=st["lw"] + 1.0, linestyle=st["ls"]))
    fig.text(xt / W, 1 - yy / H, lab, family=serif, fontsize=14, ha="left", va="center")

fig.savefig("out.png", dpi=100)
